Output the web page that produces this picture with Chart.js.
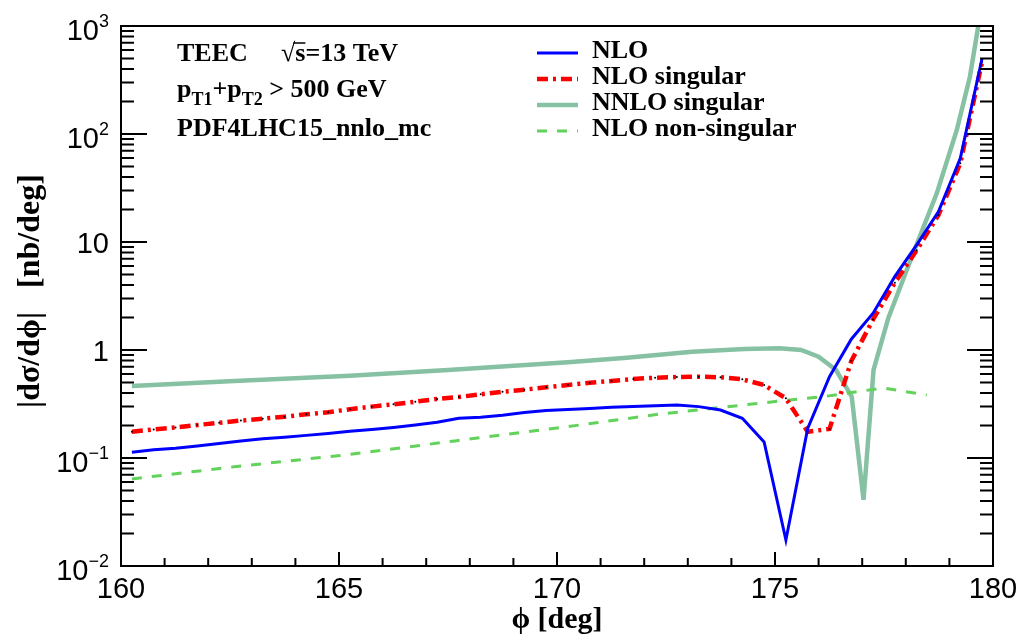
<!DOCTYPE html>
<html>
<head>
<meta charset="utf-8">
<script src="https://cdn.jsdelivr.net/npm/chart.js@4.4.1/dist/chart.umd.min.js"></script>
<style>
  html, body { margin: 0; padding: 0; background: #fff; }
</style>
</head>
<body>
<canvas id="teec" width="1022" height="637"></canvas>
<script>
// --- values (phi in deg, |dsigma/dphi| in nb/deg) ---
const binCentres = [160.25, 160.75, 161.25, 161.75, 162.25, 162.75, 163.25, 163.75, 164.25, 164.75,
                    165.25, 165.75, 166.25, 166.75, 167.25, 167.75, 168.25, 168.75, 169.25, 169.75,
                    170.25, 170.75, 171.25, 171.75, 172.25, 172.75, 173.25, 173.75, 174.25, 174.75,
                    175.25, 175.75, 176.25, 176.75, 177.25, 177.75, 178.25, 178.75, 179.25, 179.75];
const nlo = [0.113, 0.119, 0.123, 0.129, 0.136, 0.144, 0.151, 0.156, 0.162, 0.169,
             0.177, 0.184, 0.192, 0.202, 0.214, 0.233, 0.238, 0.249, 0.264, 0.275,
             0.281, 0.287, 0.295, 0.300, 0.305, 0.310, 0.299, 0.278, 0.233, 0.141,
             0.0174, 0.188, 0.566, 1.26, 2.19, 4.8, 9.4, 19.1, 59.6, 503];
const nloSingular = [0.175, 0.184, 0.192, 0.202, 0.212, 0.222, 0.231, 0.241, 0.254, 0.265,
                     0.283, 0.299, 0.314, 0.332, 0.352, 0.367, 0.389, 0.411, 0.429, 0.451,
                     0.474, 0.498, 0.516, 0.539, 0.554, 0.562, 0.566, 0.559, 0.535, 0.474,
                     0.357, 0.175, 0.186, 0.79, 1.92, 4.2, 8.4, 17.8, 53.5, 467];
const nnloX = [160.25, 162.6, 165.25, 167.5, 170.25, 171.6, 173.1, 174.3, 175.1, 175.6, 176.0,
               176.4, 176.76, 177.03, 177.26, 177.6, 178.17, 178.71, 179.17, 179.47, 179.66];
const nnloSingular = [0.464, 0.517, 0.578, 0.652, 0.769, 0.849, 0.964, 1.02, 1.04, 1.0, 0.867,
                      0.653, 0.37, 0.041, 0.653, 1.98, 7.86, 28.2, 109, 339, 986];
const nonSingX = [160.25, 162.6, 165.25, 167.66, 170.07, 172.36, 173.43, 175.11, 176.11, 177.48, 178.48];
const nloNonSingular = [0.064, 0.083, 0.108, 0.144, 0.191, 0.255, 0.284, 0.337, 0.37, 0.445, 0.383];

const xTicks = [160, 165, 170, 175, 180];
const yTickValues = [0.01, 0.1, 1, 10, 100, 1000];
const yTickLabels = [['10', '\u22122'], ['10', '\u22121'], ['1', ''], ['10', ''], ['10', '2'], ['10', '3']];

const pts = (xs, ys) => xs.map((x, i) => ({ x, y: ys[i] }));

// first dataset is drawn on top
const datasets = [
  { label: 'NLO', data: pts(binCentres, nlo), borderColor: '#0000ff', borderWidth: 3 },
  { label: 'NLO singular', data: pts(binCentres, nloSingular), borderColor: '#ff0000', borderWidth: 4.5,
    borderDash: [11, 5, 3, 5], pointRadius: 1, pointBackgroundColor: '#000', pointBorderWidth: 0 },
  { label: 'NLO non-singular', data: pts(nonSingX, nloNonSingular), borderColor: '#62d25a', borderWidth: 3,
    borderDash: [10, 10] },
  { label: 'NNLO singular', data: pts(nnloX, nnloSingular), borderColor: '#86c1a3', borderWidth: 4.5 }
].map(d => Object.assign({ fill: false, tension: 0, pointRadius: 0 }, d));

const legendOrder = ['NLO', 'NLO singular', 'NNLO singular', 'NLO non-singular'];

const SERIF = '"Liberation Serif", "DejaVu Serif", serif';
const SANS = '"Liberation Sans", Arial, sans-serif';

// --- frame, inward ticks, labels, legend, text ---
const decor = {
  id: 'decor',
  afterDatasetsDraw(chart) {
    const { ctx, chartArea: a, scales: { x, y } } = chart;
    ctx.save();
    ctx.strokeStyle = '#000';
    ctx.fillStyle = '#000';

    // ticks
    ctx.lineWidth = 2;
    ctx.beginPath();
    for (let v = 160; v <= 180; v++) {
      const px = x.getPixelForValue(v);
      const len = v % 5 === 0 ? 14 : 8;
      ctx.moveTo(px, a.bottom); ctx.lineTo(px, a.bottom - len);
    }
    yTickValues.forEach((dec, i) => {
      for (let m = 1; m <= 9; m++) {
        const v = dec * m;
        if (i === yTickValues.length - 1 && m > 1) break;
        const py = y.getPixelForValue(v);
        const len = m === 1 ? 26 : 13;
        ctx.moveTo(a.left, py); ctx.lineTo(a.left + len, py);
        ctx.moveTo(a.right, py); ctx.lineTo(a.right - len, py);
      }
    });
    ctx.stroke();

    // frame
    ctx.lineWidth = 2;
    ctx.strokeRect(a.left, a.top, a.right - a.left, a.bottom - a.top);

    // x tick labels
    ctx.font = '29px ' + SANS;
    ctx.textAlign = 'center';
    ctx.textBaseline = 'alphabetic';
    xTicks.forEach(v => ctx.fillText(String(v), x.getPixelForValue(v), 598));

    // y tick labels with superscripts
    yTickValues.forEach((v, i) => {
      const [base, exp] = yTickLabels[i];
      const py = y.getPixelForValue(v);
      ctx.textAlign = 'left';
      ctx.font = '18px ' + SANS;
      const ew = exp ? ctx.measureText(exp).width : 0;
      ctx.font = '29px ' + SANS;
      const bw = ctx.measureText(base).width;
      const x0 = 109 - ew - bw;
      ctx.fillText(base, x0, py + (exp ? 14 : 11));
      if (exp) {
        ctx.font = '18px ' + SANS;
        ctx.fillText(exp, x0 + bw, py + 1);
      }
    });

    // axis titles
    ctx.font = 'bold 30px ' + SERIF;
    ctx.textAlign = 'center';
    ctx.fillText('\u03d5 [deg]', (a.left + a.right) / 2, 628);
    ctx.save();
    ctx.translate(39, 291);
    ctx.rotate(-Math.PI / 2);
    ctx.font = 'bold 32px ' + SERIF;
    ctx.fillText('|d\u03c3/d\u03d5|   [nb/deg]', 0, 0);
    ctx.restore();

    // annotation
    ctx.textAlign = 'left';
    ctx.font = 'bold 26px ' + SERIF;
    ctx.fillText('TEEC', 177, 61);
    ctx.fillText('\u221a', 281, 61);
    const rw = ctx.measureText('\u221a').width;
    const sw = ctx.measureText('s').width;
    ctx.fillText('s=13 TeV', 281 + rw, 61);
    ctx.lineWidth = 1.5;
    ctx.beginPath();
    ctx.moveTo(281 + rw - 2, 43); ctx.lineTo(281 + rw + sw, 43);
    ctx.stroke();

    let cx = 177;
    const part = (t, size, dy) => {
      ctx.font = 'bold ' + size + 'px ' + SERIF;
      ctx.fillText(t, cx, 97 + dy);
      cx += ctx.measureText(t).width;
    };
    part('p', 26, 0); part('T1', 18, 8); part('+p', 26, 0); part('T2', 18, 8); part(' > 500 GeV', 26, 0);

    ctx.font = 'bold 26px ' + SERIF;
    ctx.fillText('PDF4LHC15_nnlo_mc', 177, 136);

    // legend
    legendOrder.forEach((name, i) => {
      const ds = chart.data.datasets.find(d => d.label === name);
      const ly = 53 + i * 26;
      ctx.strokeStyle = ds.borderColor;
      ctx.lineWidth = ds.borderWidth;
      ctx.setLineDash(ds.borderDash || []);
      ctx.beginPath();
      ctx.moveTo(537, ly); ctx.lineTo(578, ly);
      ctx.stroke();
      ctx.setLineDash([]);
      ctx.fillStyle = '#000';
      ctx.font = 'bold 26px ' + SERIF;
      ctx.fillText(name, 592, ly + 5);
    });
    ctx.restore();
  }
};

new Chart(document.getElementById('teec'), {
  type: 'line',
  data: { datasets },
  options: {
    responsive: false,
    animation: false,
    devicePixelRatio: 1,
    layout: { padding: { left: 121, right: 29, top: 26, bottom: 71 } },
    plugins: { legend: { display: false }, tooltip: { enabled: false } },
    scales: {
      x: { type: 'linear', min: 160, max: 180, display: false },
      y: { type: 'logarithmic', min: 0.01, max: 1000, display: false }
    }
  },
  plugins: [decor]
});
</script>
</body>
</html>
